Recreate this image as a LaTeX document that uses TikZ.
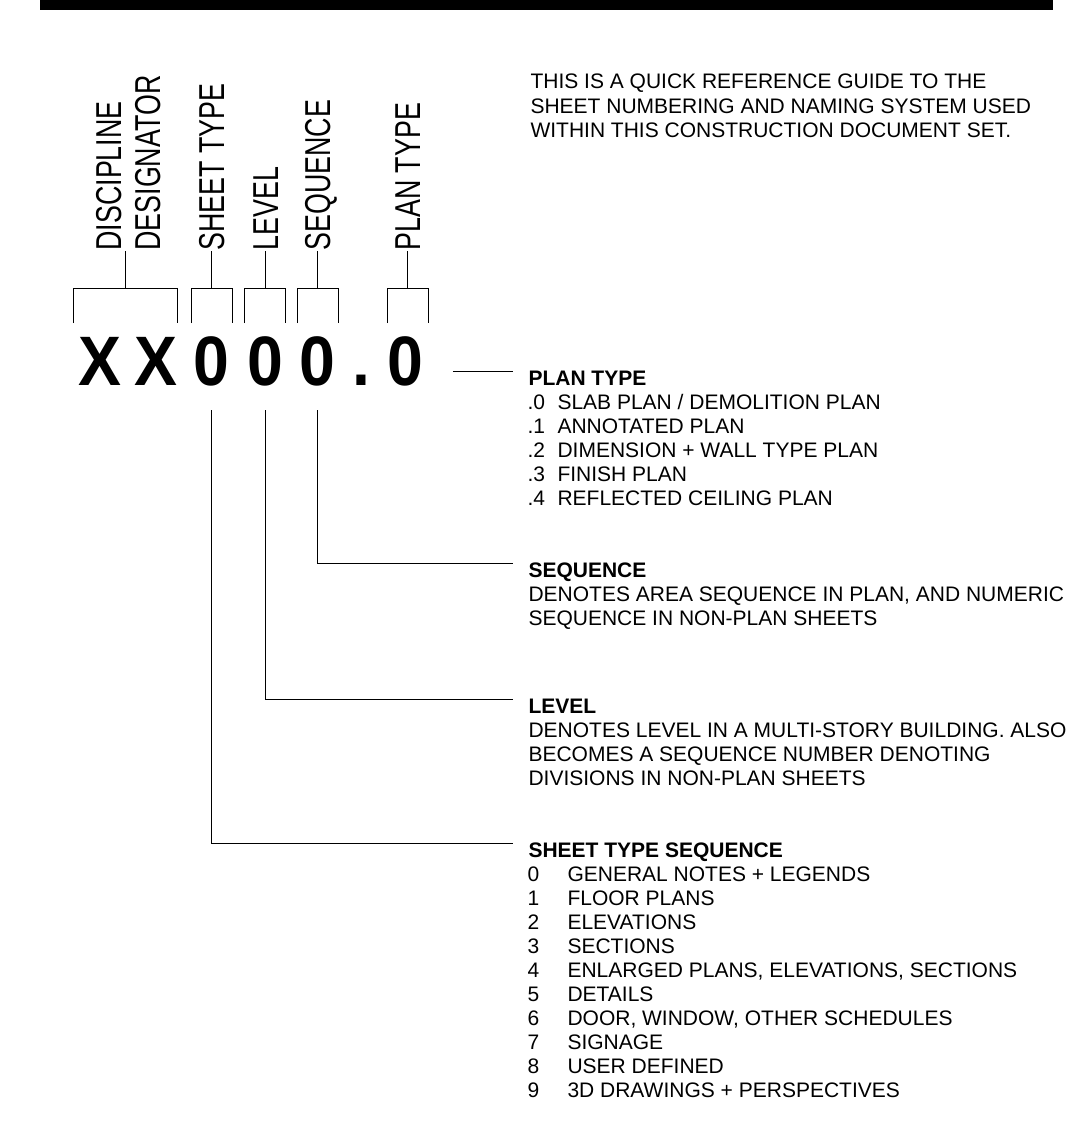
\documentclass[tikz,border=0pt]{standalone}
\usepackage{fontspec}
\setmainfont{Liberation Sans}
\newfontfamily\tagfont[FakeStretch=0.745]{Liberation Sans}
\newfontfamily\bigfont[FakeStretch=0.92]{Liberation Sans}
\usepackage{tikz}

\begin{document}
\begin{tikzpicture}
  [x = 1pt, y = -1pt, line width = 1pt,
   every node/.style = {inner sep = 0pt, font = \fontsize{21}{24}\selectfont},
   tag/.style = {rotate = 90, anchor = west, text height = 26pt, text depth = 0pt,
                 font = \tagfont\fontsize{36}{40}\selectfont},
   big/.style = {anchor = base, font = \bigfont\bfseries\fontsize{70}{70}\selectfont},
   head/.style = {anchor = base west, text height = 15pt, text depth = 0pt,
                  font = \fontsize{21}{24}\selectfont\bfseries},
   item/.style = {anchor = base west}]
    \useasboundingbox (0,0) rectangle (1074,1142);
    \fill (40,0) rectangle (1053,10);

    \node[item] (g1) at (530,89) {THIS IS A QUICK REFERENCE GUIDE TO THE};
    \node[item] (g2) at (530,113.5) {SHEET NUMBERING AND NAMING SYSTEM USED};
    \node[item] (g3) at (530,138) {WITHIN THIS CONSTRUCTION DOCUMENT SET.};

    \node[tag] (t1) at (108.5,251) {DISCIPLINE};
    \node[tag] (t2) at (147,251) {DESIGNATOR};
    \node[tag] (t3) at (211.5,251) {SHEET TYPE};
    \node[tag] (t4) at (265,251) {LEVEL};
    \node[tag] (t5) at (317.5,251) {SEQUENCE};
    \node[tag] (t6) at (407.5,251) {PLAN TYPE};
    \coordinate (t0) at (125,251);
    \coordinate (top) at (0,288);
    \draw (t0) -- (t0 |- top);
    \draw (t3.west) -- (t3.west |- top);
    \draw (t4.west) -- (t4.west |- top);
    \draw (t5.west) -- (t5.west |- top);
    \draw (t6.west) -- (t6.west |- top);

    \draw (73,323) |- (177,288) -- (177,323);
    \draw (191,323) |- (232,288) -- (232,323);
    \draw (244,323) |- (285,288) -- (285,323);
    \draw (297,323) |- (338,288) -- (338,323);
    \draw (387,323) |- (428,288) -- (428,323);

    \node[big] (c1) at (100,385) {X};
    \node[big] (c2) at (156,385) {X};
    \node[big] (c3) at (211.5,385) {0};
    \node[big] (c4) at (265,385) {0};
    \node[big] (c5) at (317.5,385) {0};
    \node[big] (c6) at (361.5,385) {.};
    \node[big] (c7) at (405.5,385) {0};

    \node[head] (h1) at (528,385) {PLAN TYPE};
    \node[item] (pa0) at (527,409) {.0};
    \node[item] (pa1) at (527,433) {.1};
    \node[item] (pa2) at (527,457) {.2};
    \node[item] (pa3) at (527,481) {.3};
    \node[item] (pa4) at (527,505) {.4};
    \node[item] (pb0) at (557,409) {SLAB PLAN / DEMOLITION PLAN};
    \node[item] (pb1) at (557,433) {ANNOTATED PLAN};
    \node[item] (pb2) at (557,457) {DIMENSION + WALL TYPE PLAN};
    \node[item] (pb3) at (557,481) {FINISH PLAN};
    \node[item] (pb4) at (557,505) {REFLECTED CEILING PLAN};

    \node[head] (h2) at (528,577) {SEQUENCE};
    \node[item] (s1) at (528,601) {DENOTES AREA SEQUENCE IN PLAN, AND NUMERIC};
    \node[item] (s2) at (528,625) {SEQUENCE IN NON-PLAN SHEETS};

    \node[head] (h3) at (528,713) {LEVEL};
    \node[item] (l1) at (528,737) {DENOTES LEVEL IN A MULTI-STORY BUILDING. ALSO};
    \node[item] (l2) at (528,761) {BECOMES A SEQUENCE NUMBER DENOTING};
    \node[item] (l3) at (528,785) {DIVISIONS IN NON-PLAN SHEETS};

    \node[head] (h4) at (528,857) {SHEET TYPE SEQUENCE};
    \node[item] (sa0) at (527,881) {0};
    \node[item] (sa1) at (527,905) {1};
    \node[item] (sa2) at (527,929) {2};
    \node[item] (sa3) at (527,953) {3};
    \node[item] (sa4) at (527,977) {4};
    \node[item] (sa5) at (527,1001) {5};
    \node[item] (sa6) at (527,1025) {6};
    \node[item] (sa7) at (527,1049) {7};
    \node[item] (sa8) at (527,1073) {8};
    \node[item] (sa9) at (527,1097) {9};
    \node[item] (sb0) at (567,881) {GENERAL NOTES + LEGENDS};
    \node[item] (sb1) at (567,905) {FLOOR PLANS};
    \node[item] (sb2) at (567,929) {ELEVATIONS};
    \node[item] (sb3) at (567,953) {SECTIONS};
    \node[item] (sb4) at (567,977) {ENLARGED PLANS, ELEVATIONS, SECTIONS};
    \node[item] (sb5) at (567,1001) {DETAILS};
    \node[item] (sb6) at (567,1025) {DOOR, WINDOW, OTHER SCHEDULES};
    \node[item] (sb7) at (567,1049) {SIGNAGE};
    \node[item] (sb8) at (567,1073) {USER DEFINED};
    \node[item] (sb9) at (567,1097) {3D DRAWINGS + PERSPECTIVES};

    \coordinate (e1) at ([xshift=-15pt,yshift=6.5pt]h1.west);
    \coordinate (e2) at ([xshift=-15pt,yshift=6.5pt]h2.west);
    \coordinate (e3) at ([xshift=-15pt,yshift=6.5pt]h3.west);
    \coordinate (e4) at ([xshift=-15pt,yshift=6.5pt]h4.west);
    \draw (c7.east |- e1) ++(29,0) -- (e1);
    \draw ([yshift=-24pt]c5.south) |- (e2);
    \draw ([yshift=-24pt]c4.south) |- (e3);
    \draw ([yshift=-24pt]c3.south) |- (e4);
  \end{tikzpicture}
\end{document}
